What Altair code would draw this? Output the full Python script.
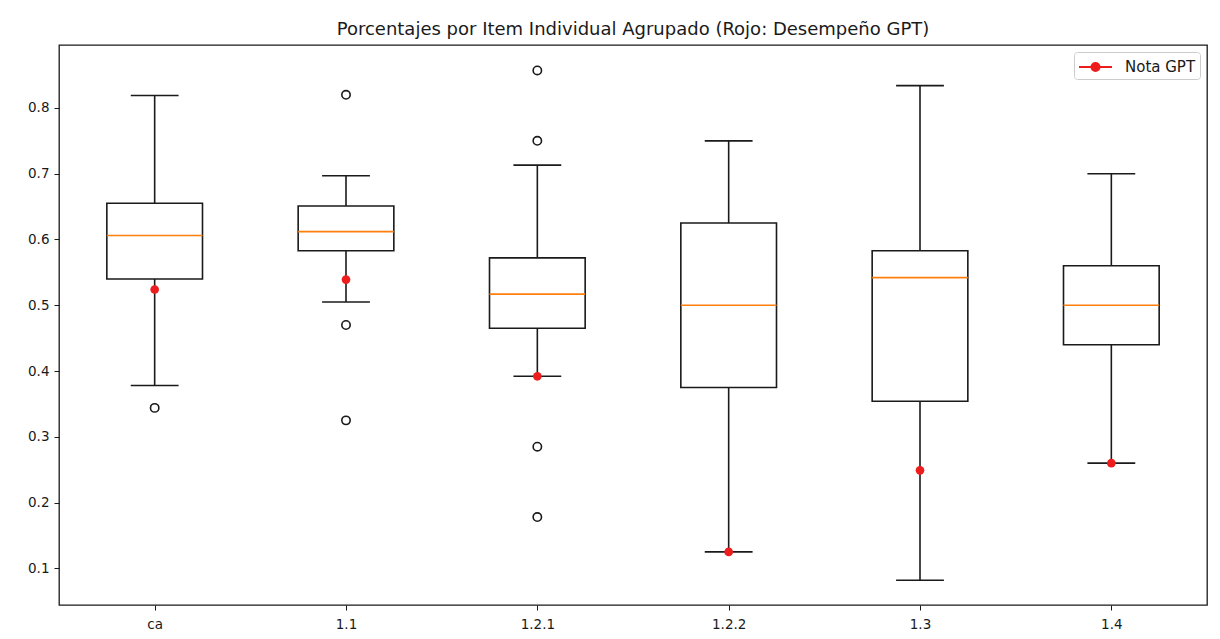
import json
import altair as alt
import pandas as pd

# ---- data ----
categories = ["ca", "1.1", "1.2.1", "1.2.2", "1.3", "1.4"]
whisker_low = [0.378, 0.505, 0.392, 0.125, 0.082, 0.260]
q1 = [0.540, 0.583, 0.465, 0.375, 0.354, 0.440]
median = [0.606, 0.612, 0.517, 0.500, 0.542, 0.500]
q3 = [0.655, 0.651, 0.572, 0.625, 0.583, 0.560]
whisker_high = [0.819, 0.697, 0.713, 0.750, 0.834, 0.700]
gpt_score = [0.524, 0.539, 0.392, 0.125, 0.249, 0.260]

outlier_cat = ["ca", "1.1", "1.1", "1.1", "1.2.1", "1.2.1", "1.2.1", "1.2.1"]
outlier_val = [0.344, 0.820, 0.470, 0.325, 0.857, 0.750, 0.285, 0.178]

y_ticks = [0.1, 0.2, 0.3, 0.4, 0.5, 0.6, 0.7, 0.8]

TITLE = "Porcentajes por Item Individual Agrupado (Rojo: Desempeño GPT)"
LEGEND_LABEL = "Nota GPT"

# ---- tables ----
positions = list(range(1, len(categories) + 1))
pos_of = dict(zip(categories, positions))

box_df = pd.DataFrame({
    "cat": categories, "pos": positions, "low": whisker_low, "q1": q1,
    "med": median, "q3": q3, "high": whisker_high,
})
out_df = pd.DataFrame({
    "cat": outlier_cat, "pos": [pos_of[c] for c in outlier_cat], "val": outlier_val,
})
gpt_df = pd.DataFrame({
    "cat": categories, "pos": positions, "gpt": gpt_score,
    "serie": [LEGEND_LABEL] * len(categories),
})

FONT = "DejaVu Sans"
BLACK = "#1a1a1a"
RED = "#ee1c1c"
ORANGE = "#ff7f0e"

xscale = alt.Scale(domain=[0.5, len(categories) + 0.5], nice=False, zero=False)
yscale = alt.Scale(domain=[0.0443, 0.8957], nice=False, zero=False)

label_expr = json.dumps(categories) + "[datum.value - 1]"
xaxis = alt.Axis(values=positions, labelExpr=label_expr, title=None, grid=False,
                 domain=False, tickSize=5, tickColor=BLACK, labelColor=BLACK,
                 labelFontSize=13.5, labelFont=FONT, labelPadding=7)
yaxis = alt.Axis(values=y_ticks, format=".1f", title=None, grid=False,
                 domain=False, tickSize=5, tickColor=BLACK, labelColor=BLACK,
                 labelFontSize=13.5, labelFont=FONT, labelPadding=5)

X = alt.X("pos:Q", scale=xscale, axis=xaxis)

base = alt.Chart(box_df).transform_calculate(
    bl="datum.pos - 0.25", br="datum.pos + 0.25",
    cl="datum.pos - 0.125", cr="datum.pos + 0.125",
)

lw = 1.6

whisk_lo = base.mark_rule(color=BLACK, strokeWidth=lw).encode(
    x=X, y=alt.Y("low:Q", scale=yscale, axis=yaxis), y2="q1:Q")
whisk_hi = base.mark_rule(color=BLACK, strokeWidth=lw).encode(
    x=X, y=alt.Y("q3:Q", scale=yscale, axis=yaxis), y2="high:Q")
cap_lo = base.mark_rule(color=BLACK, strokeWidth=lw).encode(
    x=alt.X("cl:Q", scale=xscale, axis=xaxis), x2="cr:Q",
    y=alt.Y("low:Q", scale=yscale, axis=yaxis))
cap_hi = base.mark_rule(color=BLACK, strokeWidth=lw).encode(
    x=alt.X("cl:Q", scale=xscale, axis=xaxis), x2="cr:Q",
    y=alt.Y("high:Q", scale=yscale, axis=yaxis))
box = base.mark_rect(fill="white", fillOpacity=0, stroke=BLACK, strokeWidth=lw).encode(
    x=alt.X("bl:Q", scale=xscale, axis=xaxis), x2="br:Q",
    y=alt.Y("q1:Q", scale=yscale, axis=yaxis), y2="q3:Q")
med = base.mark_rule(color=ORANGE, strokeWidth=1.6).encode(
    x=alt.X("bl:Q", scale=xscale, axis=xaxis), x2="br:Q",
    y=alt.Y("med:Q", scale=yscale, axis=yaxis))

outliers = alt.Chart(out_df).mark_point(
    shape="circle", filled=False, color=BLACK, size=70, strokeWidth=1.6, opacity=1
).encode(x=X, y=alt.Y("val:Q", scale=yscale, axis=yaxis))

# legend glyph: a short red line with a dot in the middle
legend_path = ("M-1.65,0L1.65,0M-0.4,0A0.4,0.4,0,1,0,0.4,0"
               "A0.4,0.4,0,1,0,-0.4,0Z")

gpt = alt.Chart(gpt_df).mark_point(
    shape="circle", filled=True, size=75, opacity=1
).encode(
    x=X, y=alt.Y("gpt:Q", scale=yscale, axis=yaxis),
    color=alt.Color("serie:N", scale=alt.Scale(range=[RED]), legend=alt.Legend(
        title=None, orient="none", legendX=1015, legendY=7,
        symbolType=legend_path, symbolSize=400, symbolStrokeWidth=2,
        symbolStrokeColor=RED, symbolFillColor=RED, symbolOpacity=1,
        symbolOffset=6.5,
        labelFontSize=15, labelFont=FONT, labelColor=BLACK, labelOffset=18.5,
        padding=4, strokeColor="#cccccc", fillColor="white", cornerRadius=3,
    )),
)

chart = alt.layer(
    whisk_lo, whisk_hi, cap_lo, cap_hi, box, med, outliers, gpt
).properties(
    width=1148, height=560,
    title=alt.TitleParams(TITLE, font=FONT, fontSize=18, fontWeight="normal",
                          color=BLACK, anchor="middle", frame="group", offset=6),
    autosize=alt.AutoSizeParams(type="none"),
    padding={"left": 51, "top": 37, "right": 5, "bottom": 25},
).configure(
    background="white"
).configure_view(
    stroke=BLACK, strokeWidth=1.3
)

chart.save("out.html", embed_options={"renderer": "svg", "actions": False})
